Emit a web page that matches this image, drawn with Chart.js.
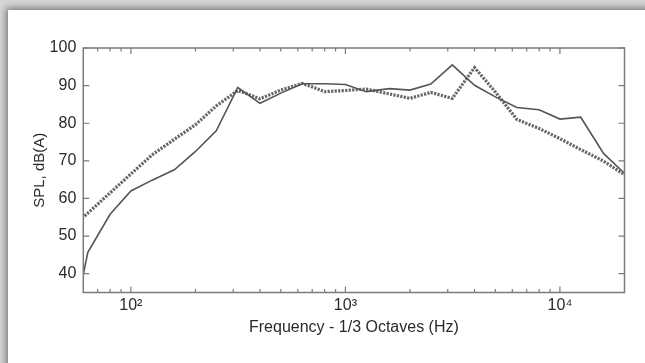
<!DOCTYPE html>
<html>
<head>
<meta charset="utf-8">
<script src="https://cdn.jsdelivr.net/npm/chart.js@4"></script>
<style>
  html, body { margin:0; padding:0; }
  body { width:645px; height:363px; background:#d6d6d6; position:relative; overflow:hidden; }
  #panel { position:absolute; left:8px; top:10px; width:660px; height:380px; background:#ffffff;
           box-shadow: -1px -1px 7px 1px rgba(0,0,0,0.45); }
  #wrap { position:absolute; left:0; top:0; width:645px; height:363px; }
</style>
</head>
<body>
<div id="panel"></div>
<div id="wrap"><canvas id="c" width="645" height="363"></canvas></div>
<script>
// 1/3-octave band centre frequencies (Hz)
const freqs = [50, 63, 80, 100, 125, 160, 200, 250, 315, 400, 500, 630, 800, 1000, 1250, 1600, 2000, 2500, 3150, 4000, 5000, 6300, 8000, 10000, 12500, 16000, 20000];
// Solid series, dB(A)
const solidSPL = [18, 45.7, 55.8, 62.0, 64.8, 67.7, 72.5, 78.0, 89.5, 85.3, 88.0, 90.5, 90.5, 90.3, 88.4, 89.2, 88.8, 90.4, 95.5, 90.1, 87.0, 84.2, 83.6, 81.1, 81.6, 71.9, 66.7];
// Dotted series, dB(A)
const dottedSPL = [51, 56.1, 61.5, 66.5, 71.5, 75.8, 79.6, 84.6, 88.7, 86.5, 88.8, 90.6, 88.4, 88.7, 89.1, 87.8, 86.6, 88.2, 86.6, 94.8, 88.3, 81.0, 78.6, 75.9, 73.0, 69.9, 66.3];
// Axis ticks
const xMajorTicks = [100, 1000, 10000];
const xTickLabels = ['10\u00B2', '10\u00B3', '10\u2074'];
const xMinorTicks = [70, 80, 90, 200, 300, 400, 500, 600, 700, 800, 900, 2000, 3000, 4000, 5000, 6000, 7000, 8000, 9000];
const yTicks = [40, 50, 60, 70, 80, 90, 100];

const FRAME = '#7a7a7a';
const TEXT = '#2a2a2a';
const FONT = "'Liberation Sans', Arial, Helvetica, sans-serif";

const framePlugin = {
  id: 'frameTicks',
  afterDraw(chart) {
    const {ctx, chartArea: a, scales: {x, y}} = chart;
    ctx.save();
    ctx.strokeStyle = FRAME;
    ctx.lineWidth = 1.5;
    ctx.strokeRect(a.left, a.top, a.right - a.left, a.bottom - a.top);
    ctx.lineWidth = 1.2;
    ctx.beginPath();
    const xt = (v, len) => {
      const px = x.getPixelForValue(v);
      ctx.moveTo(px, a.bottom); ctx.lineTo(px, a.bottom - len);
      ctx.moveTo(px, a.top); ctx.lineTo(px, a.top + len);
    };
    xMajorTicks.forEach(v => xt(v, 6));
    xMinorTicks.forEach(v => xt(v, 3.5));
    yTicks.forEach(v => {
      const py = y.getPixelForValue(v);
      ctx.moveTo(a.left, py); ctx.lineTo(a.left + 6, py);
      ctx.moveTo(a.right, py); ctx.lineTo(a.right - 6, py);
    });
    ctx.stroke();
    ctx.restore();
  }
};

new Chart(document.getElementById('c'), {
  type: 'line',
  data: {
    datasets: [
      {
        label: 'Solid',
        data: freqs.map((f, i) => ({x: f, y: solidSPL[i]})),
        borderColor: '#555555',
        borderWidth: 1.6,
        pointRadius: 0,
        tension: 0,
        fill: false
      },
      {
        label: 'Dotted',
        data: freqs.map((f, i) => ({x: f, y: dottedSPL[i]})),
        borderColor: '#666666',
        borderWidth: 3.2,
        borderDash: [2.2, 1.3],
        borderCapStyle: 'butt',
        pointRadius: 0,
        tension: 0,
        fill: false
      }
    ]
  },
  options: {
    responsive: false,
    animation: false,
    devicePixelRatio: 1,
    layout: { padding: { left: 0, top: 48, right: 20.5, bottom: 0 } },
    plugins: { legend: { display: false }, tooltip: { enabled: false } },
    scales: {
      x: {
        type: 'logarithmic',
        min: 60,
        max: 20000,
        grid: { display: false, drawTicks: false },
        border: { display: false },
        afterBuildTicks: s => { s.ticks = xMajorTicks.map(v => ({value: v, major: true})); },
        afterFit: s => { s.height = 70.5; },
        ticks: {
          autoSkip: false, maxRotation: 0, padding: 3,
          color: TEXT, font: { family: FONT, size: 16 },
          callback: (v) => { const i = xMajorTicks.indexOf(v); return i >= 0 ? xTickLabels[i] : ''; }
        },
        title: {
          display: true, text: 'Frequency - 1/3 Octaves (Hz)', color: TEXT,
          font: { family: FONT, size: 16 }, padding: { top: 4, bottom: 26 }
        }
      },
      y: {
        min: 35,
        max: 100,
        grid: { display: false, drawTicks: false },
        border: { display: false },
        afterBuildTicks: s => { s.ticks = yTicks.map(v => ({value: v})); },
        afterFit: s => { s.width = 83.3; },
        ticks: {
          autoSkip: false, padding: 7,
          color: TEXT, font: { family: FONT, size: 16 }
        },
        title: {
          display: true, text: 'SPL, dB(A)', color: TEXT,
          font: { family: FONT, size: 15 }, padding: { top: 31, bottom: 0 }
        }
      }
    }
  },
  plugins: [framePlugin]
});
</script>
</body>
</html>
